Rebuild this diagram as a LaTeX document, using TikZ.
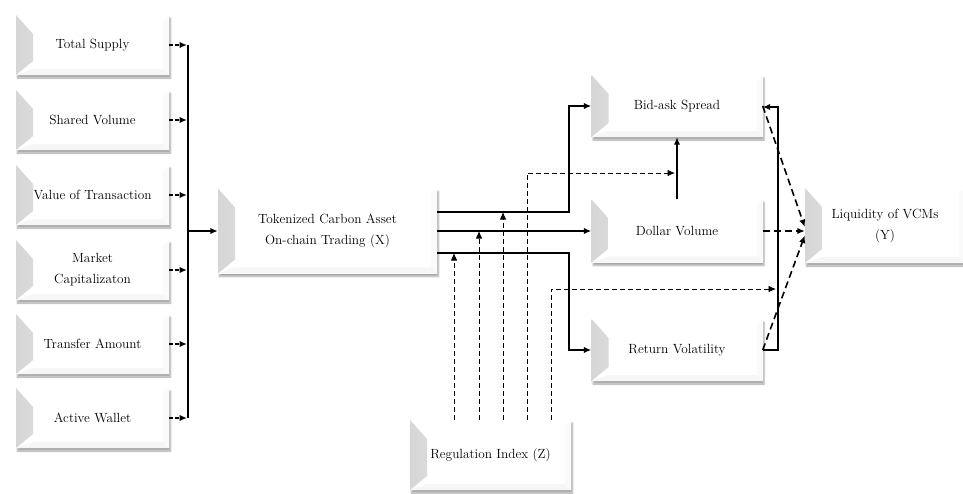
\documentclass[tikz,border=0pt]{standalone}
\usepackage{mathpazo}
\usetikzlibrary{arrows.meta,shadows.blur,calc}
\begin{document}
\begin{tikzpicture}[x=1pt,y=-1pt,
  bevelbox/.style={rectangle, fill=white, inner sep=2pt, align=center,
    font=\fontsize{13.3}{21}\selectfont, text=black,
    blur shadow={shadow xshift=1.5pt, shadow yshift=-3pt, shadow blur steps=6, shadow opacity=35},
    path picture={
      \fill[left color=gray!32, right color=gray!6]
        (path picture bounding box.north west)
        -- ([xshift=17pt,yshift=-19pt]path picture bounding box.north west)
        -- ([xshift=17pt,yshift=14pt]path picture bounding box.south west)
        -- (path picture bounding box.south west) -- cycle;
      \fill[gray!7]
        (path picture bounding box.south west)
        -- ([xshift=17pt,yshift=6pt]path picture bounding box.south west)
        -- ([xshift=-6pt,yshift=6pt]path picture bounding box.south east)
        -- (path picture bounding box.south east) -- cycle;
      \fill[gray!4]
        (path picture bounding box.south east)
        -- ([xshift=-6pt,yshift=6pt]path picture bounding box.south east)
        -- ([xshift=-6pt,yshift=-6pt]path picture bounding box.north east)
        -- (path picture bounding box.north east) -- cycle;
    }},
  tip/.style={-{Latex[length=7.5pt,width=6.5pt]}},
  solidline/.style={line width=1.8pt},
  shortdash/.style={line width=1.6pt, dash pattern=on 3.5pt off 2.5pt},
  regdash/.style={line width=0.9pt, dash pattern=on 5pt off 3pt},
  liqdash/.style={line width=1.6pt, dash pattern=on 7pt off 4pt}
]
\useasboundingbox (0,0) rectangle (963,493);
\clip (0,0) rectangle (963,493);

% left factor boxes
\node[bevelbox, minimum width=153pt, minimum height=60pt] (ts) at (92.5,45) {Total Supply};
\node[bevelbox, minimum width=153pt, minimum height=60pt] (sv) at (92.5,120) {Shared Volume};
\node[bevelbox, minimum width=153pt, minimum height=60pt] (vt) at (92.5,195) {Value of Transaction};
\node[bevelbox, minimum width=153pt, minimum height=60pt] (mc) at (92.5,270) {Market\\Capitalizaton};
\node[bevelbox, minimum width=153pt, minimum height=60pt] (ta) at (92.5,344) {Transfer Amount};
\node[bevelbox, minimum width=153pt, minimum height=60pt] (aw) at (92.5,418) {Active Wallet};

% central and right boxes
\node[bevelbox, minimum width=219pt, minimum height=85pt] (X) at (327.5,231) {Tokenized Carbon Asset\\On-chain Trading (X)};
\node[bevelbox, minimum width=171pt, minimum height=62pt] (bas) at (677,106) {Bid-ask Spread};
\node[bevelbox, minimum width=171pt, minimum height=63pt] (dv) at (677,231) {Dollar Volume};
\node[bevelbox, minimum width=171pt, minimum height=62pt] (rv) at (677,350) {Return Volatility};
\node[bevelbox, minimum width=160pt, minimum height=75pt] (liq) at (885,225.5) {Liquidity of VCMs\\(Y)};
\node[bevelbox, minimum width=161pt, minimum height=70pt] (reg) at (490.5,455) {Regulation Index (Z)};

% bus on the left
\coordinate (bustop) at (188,45);
\coordinate (busbot) at (188,418);
\draw[solidline] (bustop) -- (busbot);
\foreach \n in {ts,sv,vt,mc,ta,aw}{
  \draw[shortdash, tip] (\n.east) -- ([xshift=-1pt]\n.east -| bustop);
}
\draw[solidline, tip] (bustop |- X.west) -- (X.west);

% X to outcomes
\draw[solidline, tip] (X.east |- 0,212) -- (569,212) |- (bas.west);
\draw[solidline, tip] (X.east) -- (dv.west);
\draw[solidline, tip] (X.east |- 0,253) -- (569,253) |- (rv.west);
\draw[solidline, tip] (dv.north) -- (bas.south);

% regulation index
\draw[regdash, tip] (reg.north -| 454,0) -- (454,253);
\draw[regdash, tip] (reg.north -| 479,0) -- (479,231);
\draw[regdash, tip] (reg.north -| 503,0) -- (503,212);
\draw[regdash, tip] (reg.north -| 527,0) -- (527,173) -- ([xshift=-2pt]dv.north |- 0,173);
\draw[regdash, tip] (reg.north -| 551,0) -- (551,289) -- (776,289);

% bracket from Return Volatility to Bid-ask Spread
\draw[solidline, tip] (rv.east) -- (778,350) -- (778,107) -- (bas.east |- 0,107);

% to liquidity
\draw[liqdash, tip] (bas.east) -- ([yshift=-1.5pt]liq.west);
\draw[liqdash, tip] (dv.east) -- (liq.west |- dv.east);
\draw[liqdash, tip] (rv.east) -- ([yshift=-10pt]liq.west);
\end{tikzpicture}
\end{document}
